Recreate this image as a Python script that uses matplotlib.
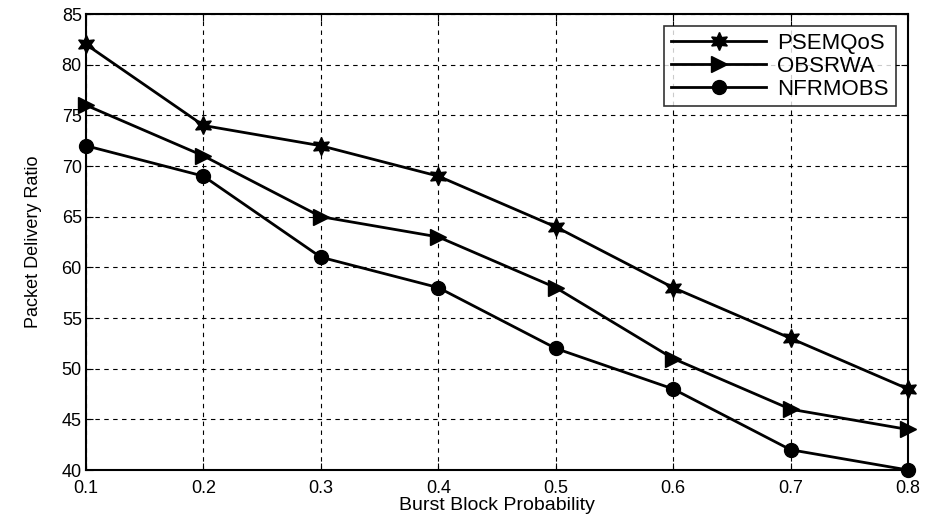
import matplotlib
matplotlib.use("Agg")
import matplotlib.pyplot as plt

plt.rcParams['font.family'] = ['Liberation Sans', 'DejaVu Sans']

x = [0.1, 0.2, 0.3, 0.4, 0.5, 0.6, 0.7, 0.8]
psemqos = [82, 74, 72, 69, 64, 58, 53, 48]
obsrwa = [76, 71, 65, 63, 58, 51, 46, 44]
nfrmobs = [72, 69, 61, 58, 52, 48, 42, 40]
labels = ['PSEMQoS', 'OBSRWA', 'NFRMOBS']

fig = plt.figure(figsize=(9.28, 5.17), dpi=100)
ax = fig.add_axes([0.0927, 0.0909, 0.8857, 0.882])

ax.plot(x, psemqos, color='black', lw=2, marker=(6, 1, 0), ms=13, label=labels[0], clip_on=False)
ax.plot(x, obsrwa, color='black', lw=2, marker='>', ms=11, label=labels[1], clip_on=False)
ax.plot(x, nfrmobs, color='black', lw=2, marker='o', ms=10, label=labels[2], clip_on=False)

ax.set_xlim(0.1, 0.8)
ax.set_ylim(40, 85)
ax.set_xticks(x)
ax.set_xticklabels([f'{v:.1f}' for v in x])
ax.set_yticks(range(40, 90, 5))
ax.grid(True, color='black', linestyle=(0, (4, 4)), linewidth=0.8)
ax.tick_params(direction='in', labelsize=13, length=5, top=True, right=True, pad=3)
ax.tick_params(axis='x', pad=7)
for s in ax.spines.values():
    s.set_linewidth(1.5)
ax.set_xlabel('Burst Block Probability', fontsize=14, labelpad=0)
ax.set_ylabel('Packet Delivery Ratio', fontsize=13, labelpad=14)

leg = ax.legend(loc='upper right', bbox_to_anchor=(0.985, 0.973), fontsize=16, frameon=True,
                fancybox=False, edgecolor='black', handlelength=4.3, borderpad=0.3,
                labelspacing=0.08, handletextpad=0.5, borderaxespad=0)
leg.get_frame().set_linewidth(1.2)

fig.savefig('out.png', dpi=100)
